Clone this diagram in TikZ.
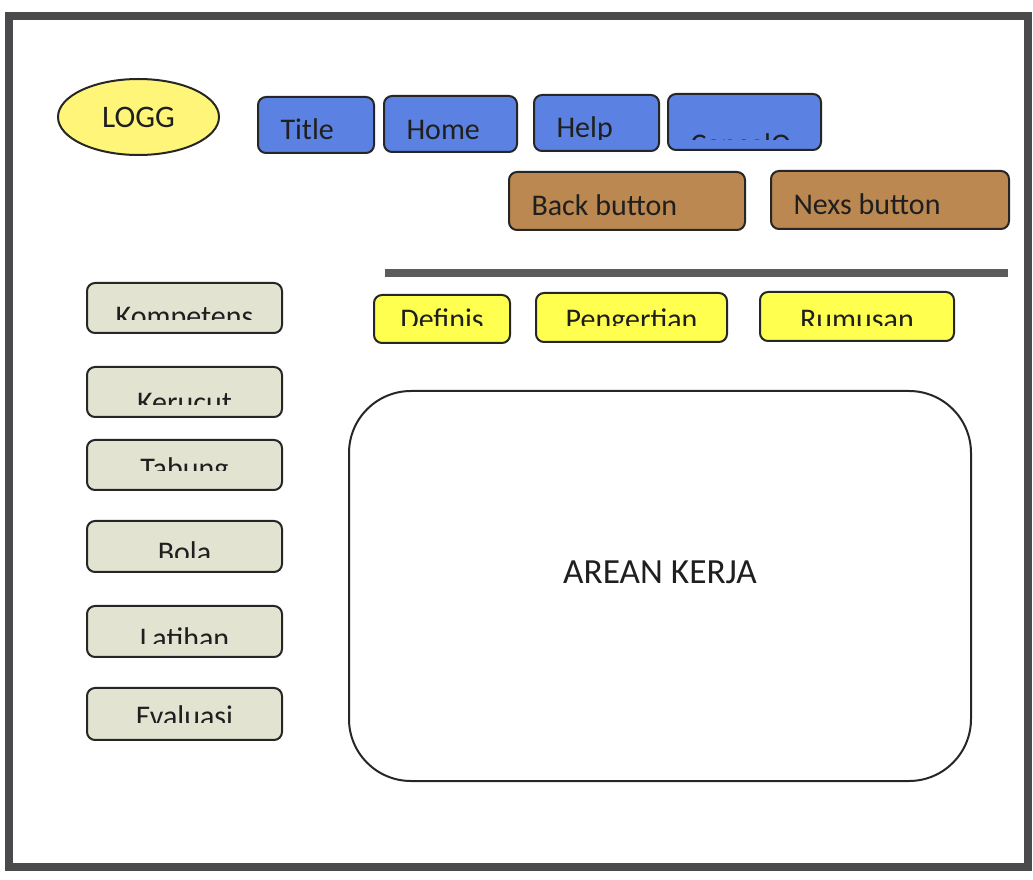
\documentclass[tikz,border=0pt]{standalone}
\usepackage{fontspec}
\setmainfont{Carlito}
\usetikzlibrary{shapes.geometric,calc}

\definecolor{framegray}{RGB}{74,74,76}
\definecolor{btnblue}{RGB}{91,130,226}
\definecolor{btnbrown}{RGB}{186,136,80}
\definecolor{logoyellow}{RGB}{255,245,120}
\definecolor{tabyellow}{RGB}{255,255,80}
\definecolor{menugray}{RGB}{226,227,209}

\tikzset{every picture/.style={line width=0.75pt}}

% label cut off at the inner edge of its box: box, inset from bottom, baseline below cut, text
\newcommand{\cuttext}[4]{%
  \begin{scope}
    \clip (#1.north west) rectangle ($(#1.south east)+(0,-#2)$);
    \node [lbl, anchor=base] at ($(#1.south)+(0,#3-#2)$) {#4};
  \end{scope}}
\newcommand{\cuttextl}[4]{%
  \begin{scope}
    \clip (#1.north west) rectangle ($(#1.south east)+(0,-#2)$);
    \node [lbl, anchor=base west] at ($(#1.south west)+(23,#3-#2)$) {#4};
  \end{scope}}

\begin{document}
\begin{tikzpicture}[x=0.75pt,y=0.75pt,yscale=-1,xscale=1,
  btn/.style={draw=black!85, line width=1.5pt, rounded corners=6pt, inner sep=0pt},
  bluebtn/.style={btn, fill=btnblue, minimum height=42pt},
  brownbtn/.style={btn, fill=btnbrown, minimum height=43.5pt},
  menubtn/.style={btn, fill=menugray, minimum width=146.25pt, minimum height=37.5pt},
  tabbtn/.style={btn, fill=tabyellow, minimum height=36.75pt},
  lbl/.style={inner sep=0pt, text=black!88, font=\fontsize{22.5}{27}\selectfont}]
\useasboundingbox (0,0) rectangle (1033,880);

%Shape: Frame
\draw [color=framegray, line width=6pt] (9,16) rectangle (1028,867);

%Shape: Ellipse
\node [ellipse, draw=black!85, line width=1.5pt, fill=logoyellow, inner sep=0pt,
  minimum width=120.75pt, minimum height=57pt] (logg) at (138.5,117) {};
% Text Node
\node [lbl, anchor=base, font=\fontsize{23.5}{28}\selectfont] (logglbl) at (138.5,128) {LOGG};

%Shape: Top buttons
\node [bluebtn, minimum width=87pt] (title) at (316,125) {};
\node [bluebtn, minimum width=99.75pt] (home) at (450.5,124) {};
\node [bluebtn, minimum width=93.75pt] (help) at (596.5,123) {};
\node [bluebtn, minimum width=114.75pt] (cancel) at (744.5,122) {};
\node [brownbtn, minimum width=177pt] (back) at (627,201) {};
\node [brownbtn, minimum width=178.5pt] (nexs) at (890,200) {};
% Text Node
\cuttextl{title}{12}{-2}{Title}
\cuttextl{home}{12}{-1}{Home}
\cuttextl{help}{12}{-2}{Help}
\cuttextl{cancel}{11}{15}{CancelO}
\cuttextl{back}{0}{-15}{Back button}
\cuttextl{nexs}{0}{-15}{Nexs button}

%Straight Lines
\draw [color=framegray!90, line width=6pt] (385,273) -- (1008,273);

%Shape: Side menu
\node [menubtn] (kompetens) at (184.5,308) {};
\node [menubtn] (kerucut) at (184.5,392) {};
\node [menubtn] (tabung) at (184.5,465) {};
\node [menubtn, minimum height=38.25pt] (bola) at (184.5,546.5) {};
\node [menubtn, minimum height=38.25pt] (latihan) at (184.5,631.5) {};
\node [menubtn, minimum height=39pt] (evaluasi) at (184.5,714) {};
% Text Node
\cuttext{kompetens}{14}{7}{Kompetens}
\cuttext{kerucut}{13}{8}{Kerucut}
\cuttext{tabung}{20}{8}{Tabung}
\cuttext{bola}{15}{5}{Bola}
\cuttext{latihan}{14}{5}{Latihan}
\cuttext{evaluasi}{18}{4}{Evaluasi}

%Shape: Tabs
\node [tabbtn, minimum width=102pt, minimum height=36pt] (definis) at (442,319) {};
\node [tabbtn, minimum width=143.25pt] (pengertian) at (631.5,317.5) {};
\node [tabbtn, minimum width=145.5pt] (rumusan) at (857,316.5) {};
% Text Node
\cuttext{definis}{18}{4}{Definis}
\cuttext{pengertian}{17}{4}{Pengertian}
\cuttext{rumusan}{16}{4}{Rumusan}

%Shape: Work area
\node [draw=black!85, line width=1.5pt, rounded corners=46.5pt, inner sep=0pt,
  minimum width=466.5pt, minimum height=292.5pt] (arean) at (660,586) {};
% Text Node
\node [lbl, anchor=base, font=\fontsize{26.5}{31}\selectfont] (areanlbl) at (660,584) {AREAN KERJA};

\end{tikzpicture}
\end{document}
